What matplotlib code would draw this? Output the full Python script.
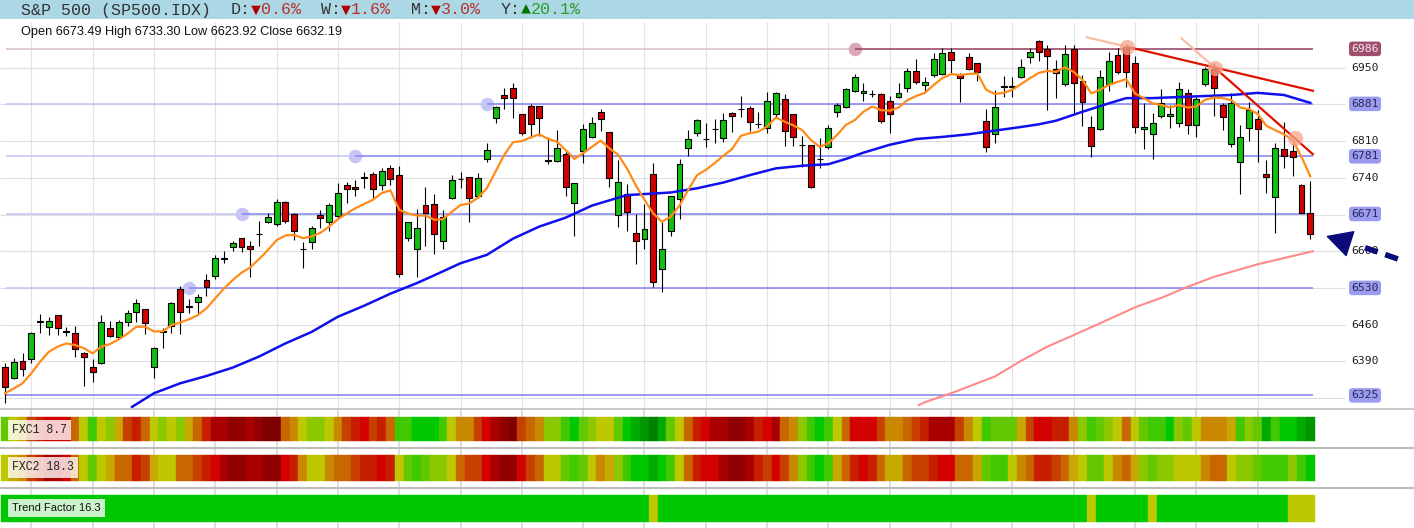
import numpy as np
import matplotlib
matplotlib.use("Agg")
import matplotlib.pyplot as plt
from matplotlib.patches import Rectangle

# ---- daily candles, oldest first ----
opens = [6378.5, 6357.5, 6391.2, 6395, 6465.6, 6454.8, 6477.7, 6447.8, 6444.6, 6406.5,
         6379.8, 6386.1, 6454.1, 6437, 6464.3, 6484.7, 6489.1, 6379.8, 6446.5, 6458,
         6527.3, 6494.2, 6503.8, 6545, 6553.3, 6586, 6607.4, 6624.5, 6610, 6632,
         6656.3, 6651.9, 6693.2, 6670.3, 6603.6, 6616.9, 6669, 6656.3, 6667.1, 6726.3,
         6723.1, 6740.3, 6746.6, 6726.3, 6759.3, 6745.4, 6624.6, 6604.2, 6688.1, 6690.1,
         6619.5, 6700.9, 6737.1, 6740.9, 6705.9, 6775.2, 6853.4, 6897.3, 6910.7, 6861.1,
         6877.6, 6877, 6772.7, 6772.7, 6784.8, 6691.3, 6791.8, 6817.2, 6866.2, 6826.7,
         6669.1, 6708.5, 6634.1, 6623.3, 6746.6, 6565.4, 6638.6, 6698.9, 6796.2, 6824.8,
         6814, 6832.5, 6815.3, 6863, 6870.6, 6872.5, 6842, 6834.4, 6861.1, 6889.7,
         6861.1, 6802.6, 6802.6, 6775.9, 6798.1, 6864.9, 6874.4, 6906.2, 6901.1, 6899.2,
         6899.2, 6887.1, 6893.5, 6910.6, 6944.3, 6917, 6936.1, 6938, 6979.3, 6938,
         6969.8, 6958.3, 6848.3, 6823.5, 6913.8, 6912.5, 6931.6, 6969.8, 7001.6, 6985.7,
         6946.9, 6918.3, 6985, 6924.6, 6837.5, 6832.4, 6918.3, 6973.6, 6990.1, 6958.3,
         6832.4, 6822.9, 6857.9, 6857.9, 6843.9, 6901.1, 6840.1, 6918.3, 6946.9, 6878.9,
         6804.5, 6770.8, 6834.4, 6851.5, 6746.6, 6702.8, 6794.3, 6791.8, 6726.3, 6673.49]
highs = [6387.4, 6395.6, 6406.5, 6445.5, 6479.6, 6475, 6478.5, 6456, 6457.3, 6407.5,
         6393.8, 6478.3, 6466.9, 6468.8, 6487.8, 6508.8, 6490, 6416.6, 6452.8, 6503,
         6533.6, 6508.2, 6518.4, 6555.8, 6592.8, 6600.4, 6619.4, 6625.5, 6619.4, 6657.6,
         6672.2, 6699.6, 6696.4, 6672.2, 6618.2, 6648.1, 6678.6, 6691.3, 6729.4, 6732.6,
         6735, 6751.7, 6751.7, 6758.1, 6764.4, 6763.2, 6656.3, 6680.5, 6721.8, 6709.1,
         6678.6, 6745.4, 6751.7, 6741.5, 6748.5, 6807, 6877, 6910.7, 6921.5, 6861.5,
         6880.1, 6877.5, 6818.5, 6831.2, 6793.1, 6730, 6842, 6855.4, 6870.6, 6827.5,
         6774, 6727.6, 6670.3, 6689.4, 6768.9, 6656.3, 6706, 6775.9, 6831.2, 6852.2,
         6843.9, 6852.2, 6864.3, 6866.2, 6896.1, 6877, 6866.2, 6904.3, 6904.3, 6899.9,
         6861.5, 6819.7, 6803, 6816.6, 6840.7, 6882.1, 6911.9, 6938, 6920.2, 6907.5,
         6901.1, 6896, 6921.4, 6948.8, 6965.9, 6932.9, 6977.4, 6986.9, 6986.9, 6939.2,
         6978.7, 6958.8, 6871.2, 6907.5, 6934.8, 6932.9, 6965.9, 6986.9, 7002, 6993.3,
         6964.7, 6993.3, 6993.3, 6936.1, 6857.9, 6945.6, 6979.3, 6986.9, 6995.2, 6972.3,
         6882, 6862.9, 6908.7, 6878.9, 6923.4, 6908.7, 6894.7, 6950.7, 6958.3, 6882,
         6902.4, 6840.7, 6885.2, 6869.3, 6774, 6807, 6847.1, 6812.1, 6727.6, 6733.30]
lows = [6311, 6355.6, 6361.9, 6386, 6444.6, 6440, 6440, 6438, 6398.8, 6343.5,
        6351, 6384, 6437, 6433.8, 6458, 6465.6, 6442, 6358.8, 6416, 6444.6,
        6442, 6482.8, 6482.8, 6514.5, 6547, 6576.8, 6601, 6599, 6551.4, 6610,
        6653, 6648.7, 6653, 6621.4, 6568.6, 6604.2, 6643.6, 6639.2, 6660.8, 6692.6,
        6705.3, 6719.9, 6700.9, 6716.7, 6726.3, 6550.2, 6620.1, 6550, 6610.6, 6594.1,
        6604.2, 6699.6, 6721.2, 6655.1, 6702.1, 6770.8, 6843.9, 6870.6, 6853.4, 6821.7,
        6815.3, 6820.4, 6765.7, 6770, 6705.9, 6629.6, 6768.9, 6815.3, 6829.9, 6723.1,
        6646.8, 6639.2, 6575, 6603.6, 6532.4, 6521.6, 6629.6, 6661.4, 6782.2, 6819.7,
        6799.4, 6805.8, 6808.9, 6826.7, 6856.6, 6829.9, 6834.4, 6824.8, 6853.4, 6801.3,
        6801.3, 6760, 6719.9, 6758.1, 6795, 6856.6, 6872.5, 6903, 6887.1, 6893.5,
        6845.1, 6824.8, 6891.6, 6903, 6918.9, 6902.4, 6931.6, 6936.1, 6938, 6885.2,
        6945.6, 6925.3, 6788.6, 6805.7, 6893.5, 6894.7, 6929.7, 6958.3, 6963.4, 6869.3,
        6891.6, 6915.7, 6864.2, 6839.4, 6779, 6831.2, 6906.2, 6938, 6912.5, 6824.8,
        6794.3, 6775.2, 6853.4, 6834.3, 6836.2, 6823.5, 6817.2, 6915.1, 6858.5, 6831.2,
        6798.1, 6709.1, 6810.8, 6770.8, 6711.7, 6635.4, 6759.3, 6743.5, 6672.2, 6623.92]
closes = [6340.3, 6389.3, 6374.7, 6444.6, 6466.5, 6467.5, 6452.9, 6446, 6412.8, 6397.6,
          6370.2, 6465.6, 6438.9, 6465.6, 6481.5, 6500.6, 6462.4, 6414.7, 6447.2, 6502,
          6483.4, 6494.8, 6512, 6532.3, 6586.4, 6586.8, 6615, 6608.6, 6603.6, 6632.6,
          6664.6, 6693.2, 6658.2, 6639.2, 6604.2, 6643.6, 6662.7, 6688.1, 6710.4, 6718,
          6718, 6740.8, 6718.1, 6753.6, 6737.7, 6555.9, 6655.1, 6643.6, 6672.2, 6632.2,
          6664.6, 6735.2, 6737.6, 6700.9, 6739, 6792.4, 6874.4, 6892.9, 6891.6, 6824.8,
          6842, 6853.4, 6773.2, 6796.2, 6721.8, 6729.5, 6832.5, 6845.2, 6851.5, 6739,
          6732.6, 6674.1, 6619.5, 6641.7, 6540.6, 6604.2, 6705.3, 6765.7, 6813.4, 6850.3,
          6814.5, 6833, 6850.3, 6858.5, 6871.1, 6847.1, 6842.5, 6886.5, 6901.1, 6829.9,
          6817.2, 6803.1, 6723.1, 6776.4, 6834.4, 6878.9, 6909.4, 6931.6, 6905.5, 6899.7,
          6848.3, 6861, 6901.1, 6944.3, 6922.1, 6922.1, 6965.9, 6977.4, 6964.7, 6929.7,
          6947.5, 6942.4, 6798.1, 6875.7, 6914.3, 6915.7, 6950.7, 6979.3, 6979.3, 6972.3,
          6940.5, 6976.1, 6920.2, 6883.9, 6801.3, 6931.6, 6963.4, 6942.4, 6942.4, 6836.2,
          6836.2, 6843.9, 6882, 6861, 6908.7, 6840.1, 6889.7, 6946.9, 6910.7, 6856.6,
          6882, 6817.2, 6869.3, 6832.5, 6740.9, 6796.2, 6782.2, 6779, 6673.5, 6632.19]

# fast average (orange), one value per bar
ma_fast = [6329, 6338, 6348, 6367, 6389, 6408, 6418, 6424, 6421, 6415,
           6405, 6418, 6423, 6432, 6443, 6456, 6456, 6447, 6447, 6459,
           6464, 6470, 6478, 6491, 6510, 6529, 6545, 6559, 6569, 6585,
           6602, 6621, 6630, 6631, 6625, 6628, 6635, 6647, 6661, 6672,
           6682, 6690, 6698, 6711, 6716, 6679, 6672, 6668, 6668, 6660,
           6661, 6675, 6688, 6691, 6702, 6720, 6752, 6784, 6808, 6810,
           6817, 6823, 6814, 6809, 6793, 6776, 6787, 6799, 6811, 6796,
           6784, 6758, 6726, 6698, 6672, 6656, 6666, 6687, 6717, 6745,
           6755, 6768, 6782, 6795, 6820, 6825, 6828, 6838, 6855, 6847,
           6840, 6831, 6812, 6799, 6806, 6822, 6841, 6850, 6866, 6876,
           6869, 6868, 6874, 6888, 6896, 6902, 6917, 6930, 6938, 6936,
           6938, 6939, 6908, 6900, 6902, 6908, 6919, 6930, 6940, 6944,
           6942, 6951, 6942, 6927, 6901, 6908, 6917, 6923, 6928, 6901,
           6892, 6882, 6879, 6874, 6879, 6874, 6876, 6889, 6893, 6892,
           6888, 6874, 6871, 6862, 6839, 6831, 6823, 6812, 6780, 6743]

# 50-day (blue), read at a few bars
ma50_idx = [14.5, 17, 20, 23, 26, 29, 32, 35, 38, 41, 44, 47, 49, 52, 55, 58, 61, 64,
            67, 69, 71, 74, 76, 79, 82, 85, 88, 91, 94, 96, 98, 101, 104, 107, 110,
            113, 116, 118, 120, 123, 126, 128, 131, 134, 137, 140, 143, 146, 149]
ma50_val = [6303, 6329, 6348, 6362, 6378, 6399, 6424, 6446, 6475, 6496, 6519, 6539,
            6554, 6577, 6593, 6624, 6647, 6664, 6687, 6697, 6707, 6710, 6712, 6720,
            6731, 6745, 6758, 6763, 6766, 6776, 6788, 6803, 6814, 6818, 6823, 6830,
            6837, 6842, 6849, 6866, 6882, 6892, 6892, 6894, 6896, 6898, 6902, 6898, 6883]

# 200-day (salmon)
ma200_idx = [104.3, 105, 108, 113, 116, 119, 122, 126, 129, 132, 135, 138, 143, 149.3]
ma200_val = [6306, 6312, 6329, 6361, 6391, 6418, 6440, 6470, 6493, 6511, 6532, 6551,
             6575, 6600]

# horizontal levels and the bar where each one was anchored
levels = [6986, 6881, 6781, 6671, 6530, 6325]
level_anchor = [97, 55, 40, 27, 21, None]

# falling trend lines: faint start, anchor, end
trend_a_idx = [123.5, 128.1, 149.3]
trend_a_val = [7008, 6990, 6906]
trend_b_idx = [134.3, 138.1, 149.3]
trend_b_val = [7006, 6950, 6785]
pivot_idx = [128.1, 138.1, 147.3]
pivot_val = [6990, 6950, 6815]

grid_vals = [6320, 6390, 6460, 6530, 6600, 6670, 6740, 6810, 6880, 6950]

# indicator strips, colour level per bar (0 = deep red ... 16 = deep green)
fxc1 = [11, 9, 8, 5, 4, 3, 3, 3, 6, 9,
        12, 9, 10, 8, 5, 4, 6, 9, 10, 9,
        10, 8, 6, 4, 2, 2, 1, 1, 2, 1,
        0, 0, 6, 7, 9, 10, 10, 9, 7, 5,
        4, 3, 5, 4, 6, 12, 12, 13, 13, 13,
        12, 9, 7, 7, 5, 3, 2, 1, 0, 5,
        6, 7, 10, 10, 12, 13, 11, 10, 9, 9,
        11, 13, 14, 15, 16, 14, 11, 9, 6, 4,
        3, 2, 2, 1, 1, 2, 4, 3, 2, 6,
        7, 10, 12, 13, 12, 9, 6, 3, 3, 3,
        5, 7, 7, 6, 5, 4, 2, 2, 2, 5,
        7, 9, 12, 11, 11, 11, 8, 5, 3, 3,
        4, 4, 7, 10, 12, 11, 10, 9, 6, 9,
        11, 12, 12, 13, 10, 11, 9, 7, 7, 7,
        8, 12, 10, 11, 14, 12, 13, 13, 14, 15]
fxc2 = [9, 8, 7, 5, 4, 2, 2, 3, 6, 9,
        11, 9, 8, 6, 6, 4, 5, 8, 9, 9,
        6, 6, 5, 4, 3, 2, 1, 1, 2, 2,
        1, 1, 3, 4, 7, 9, 9, 7, 6, 6,
        5, 4, 4, 3, 4, 9, 11, 12, 11, 10,
        10, 9, 6, 5, 5, 3, 2, 1, 1, 3,
        5, 6, 9, 9, 11, 12, 11, 9, 7, 8,
        10, 12, 13, 13, 14, 13, 12, 9, 6, 4,
        3, 3, 2, 1, 1, 2, 4, 5, 3, 5,
        7, 10, 12, 13, 12, 8, 6, 4, 3, 4,
        6, 8, 8, 6, 5, 5, 4, 3, 3, 6,
        6, 8, 11, 12, 12, 9, 7, 6, 4, 4,
        5, 6, 8, 9, 11, 11, 9, 7, 6, 8,
        10, 11, 10, 10, 9, 9, 9, 7, 6, 6,
        9, 10, 10, 11, 12, 12, 12, 10, 12, 13]
trend_weak_bars = [74, 124, 131, 147, 148, 149]
trend_factor = [9 if j in trend_weak_bars else 13 for j in range(len(closes))]

palette = ['#7c0000', '#900000', '#a80000', '#d30000', '#c81e00', '#c84000',
           '#c86600', '#c88800', '#c8a800', '#bec800', '#8cc800', '#64c800',
           '#40c800', '#00c800', '#00aa00', '#009600', '#008000']

changes = [("D", -0.6), ("W", -1.6), ("M", -3.0), ("Y", 20.1)]
last_ohlc = "Open 6673.49 High 6733.30 Low 6623.92 Close 6632.19"

# ---- layout: 1414x528 px, bar i sits at 5 + 8.76*i px ----
W, H = 1414, 528
step, x0 = 8.76, 5
x_lo, x_hi = -x0 / step, (W - x0) / step
grid_right = 1340 / step
label_x = (1365 - x0) / step

fig = plt.figure(figsize=(W / 100, H / 100), dpi=100)

ax = fig.add_axes([0, 1 - 408 / H, 1, (408 - 22) / H])
ax.set_xlim(x_lo, x_hi)
ax.set_ylim(6300.9, 7037.2)
ax.axis('off')

n = len(closes)
idx = np.arange(n)
o, h, l, c = map(np.array, (opens, highs, lows, closes))
vgrid = np.arange(3, n, 7)

# grid
ax.hlines(grid_vals, x_lo, grid_right, color='#dedede', lw=0.8, zorder=0)
ax.vlines(vgrid, 6300.9, 7037.2, color='#e2e2e2', lw=0.8, zorder=0)

# horizontal levels
for val, anc in zip(levels, level_anchor):
    maroon = val == levels[0]
    strong = '#9c4a6c' if maroon else '#8a8af4'
    weak = '#dcc4ce' if maroon else '#c6c6f6'
    start = 0.1 if anc is None else anc
    if anc is not None:
        ax.hlines(val, 0.1, anc, color=weak, lw=1.2, zorder=1)
        ax.scatter([anc], [val], s=95, color='#d9a8bb' if maroon else '#c6c6f6',
                   zorder=1, linewidths=0)
    ax.hlines(val, start, 149.3, color=strong, lw=1.2, zorder=1)

# candles
up = c >= o
body_col = np.where(up, '#11c011', '#d40000')
ax.vlines(idx, l, h, color='black', lw=0.8, zorder=3)
ax.bar(idx, np.maximum(np.abs(c - o), 0.4), bottom=np.minimum(o, c), width=0.68,
       color=body_col, edgecolor='black', linewidth=0.8, zorder=4)

# moving averages
ax.plot(ma200_idx, ma200_val, color='#ff8a8a', lw=1.5, zorder=5)
ax.plot(ma50_idx, ma50_val, color='#1010ee', lw=1.8, zorder=5)
ax.plot(idx, ma_fast, color='#ff8c1a', lw=1.6, zorder=6)

# trend lines
for tx, tv in ((trend_a_idx, trend_a_val), (trend_b_idx, trend_b_val)):
    ax.plot(tx[:2], tv[:2], color='#f9bfa3', lw=1.6, zorder=6)
    ax.plot(tx[1:], tv[1:], color='#dd1100', lw=1.6, zorder=7)
ax.scatter(pivot_idx, pivot_val, s=120, color='#f5a58c', alpha=0.75, linewidths=0, zorder=7)

# right price labels
for g in grid_vals:
    if min(abs(g - v) for v in levels) > 12:
        ax.text(label_x, g, str(g), ha='center', va='center', fontsize=8.2,
                family='DejaVu Sans Mono', color='#222222', zorder=8)
for val in levels:
    maroon = val == levels[0]
    ax.text(label_x, val, str(val), ha='center', va='center', fontsize=8.2,
            family='DejaVu Sans Mono', color='#f4e6ec' if maroon else '#2a2a55', zorder=9,
            bbox=dict(boxstyle='round,pad=0.2,rounding_size=0.3',
                      fc='#9e4f6e' if maroon else '#9b9bf0', ec='none'))

# arrow pointing at the last bar
navy = '#0b0b7a'
ax.annotate('', xy=(150.8, 6629), xytext=(153.4, 6615.1),
            arrowprops=dict(arrowstyle='-|>,head_length=0.85,head_width=0.45',
                            mutation_scale=20, color=navy, lw=1, shrinkA=0, shrinkB=0),
            zorder=10)
ax.plot([155.25, 159.13], [6606.7, 6584.5], color=navy, lw=4, ls=(0, (2.4, 1.45)),
        dash_capstyle='butt', zorder=10, clip_on=False)

# ---- indicator strips ----
axs = fig.add_axes([0, 0, 1, (H - 408) / H])
axs.set_xlim(x_lo, x_hi)
axs.set_ylim(H, 408)
axs.axis('off')
axs.vlines(vgrid, 408, H, color='#d6d6d6', lw=1.1, zorder=0)
for y in (409, 448, 488):
    axs.axhline(y, color='#bcbcbc', lw=1.5 if y > 409 else 1.1, zorder=1)
for vals, top, hgt in ((fxc1, 416.7, 24), (fxc2, 455, 25.7), (trend_factor, 495, 26.7)):
    cols = [palette[v] for v in vals]
    axs.bar(idx, hgt, bottom=top, width=1.0, color=cols, edgecolor=cols,
            linewidth=0.3, zorder=2)

# ---- header / overlays in pixel space ----
ov = fig.add_axes([0, 0, 1, 1], zorder=10)
ov.set_xlim(0, W)
ov.set_ylim(H, 0)
ov.axis('off')
ov.add_patch(Rectangle((0, 0), W, 18.5, color='#acd8e6', lw=0))

mono = ['Liberation Mono', 'DejaVu Sans Mono']
cw = 10.0
ov.text(21, 14.5, "S&P 500 (SP500.IDX)", fontsize=12, family=mono, color='#333333')
for k, (name, pct) in enumerate(changes):
    pos = 21 + (21 + 9 * k) * cw
    down = pct < 0
    ov.text(pos, 14.5, name + ":", fontsize=12, family=mono, color='#333333')
    ov.text(pos + 2 * cw, 14.5, '\u25bc' if down else '\u25b2', fontsize=12, family=mono,
            color='#b00000' if down else '#007700')
    ov.text(pos + 3 * cw, 14.5, f"{abs(pct):.1f}%", fontsize=12, family=mono,
            color='#b83030' if down else '#2a9a2a')

ov.text(21, 35.5, last_ohlc, fontsize=9.2, family='Liberation Sans', color='#111111')

box = dict(boxstyle='square,pad=0.35', fc='white', ec='none', alpha=0.8)
ov.text(12, 430, f"FXC1 {8.7}", fontsize=8.3, family=mono, color='#222222',
        va='center', bbox=box)
ov.text(12, 467.5, f"FXC2 {18.3}", fontsize=8.3, family=mono, color='#222222',
        va='center', bbox=box)
ov.text(12, 508, f"Trend Factor {16.3}", fontsize=8, family='Liberation Sans',
        color='#111111', va='center', bbox=box)

fig.savefig("out.png", dpi=100)
